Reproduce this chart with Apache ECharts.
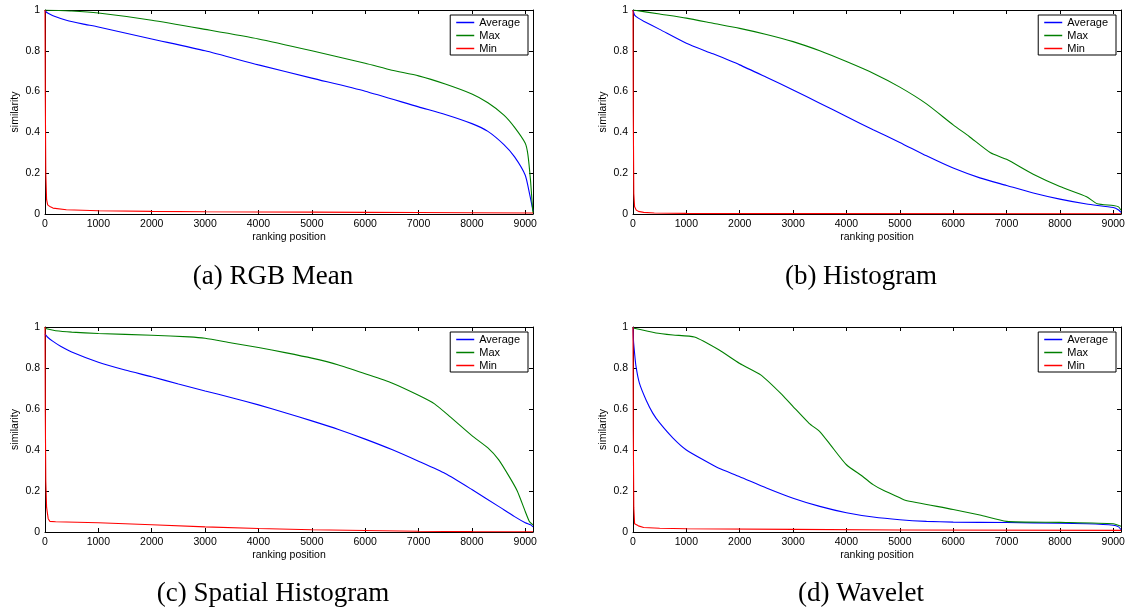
<!DOCTYPE html>
<html>
<head>
<meta charset="utf-8">
<script src="https://cdn.jsdelivr.net/npm/echarts@6/dist/echarts.min.js"></script>
<style>
  html, body { margin: 0; padding: 0; background: #fff; }
  #chart { width: 1130px; height: 608px; }
</style>
</head>
<body>
<div id="chart"></div>
<script>
const seriesNames = ['Average', 'Max', 'Min'];
const seriesColors = ['#0000ff', '#007f00', '#ff0000'];
const panelCaptions = ['(a) RGB Mean', '(b) Histogram', '(c) Spatial Histogram', '(d) Wavelet'];
const rankMax = 9145;
const simTicks = [0, 0.2, 0.4, 0.6, 0.8, 1];

// [ranking position, similarity]
const avgRgb = [[0, 0.995], [50, 0.985], [150, 0.972], [400, 0.95], [700, 0.932], [1000, 0.917], [2000, 0.858], [3000, 0.8], [4000, 0.731], [5000, 0.666], [6000, 0.602], [7000, 0.525], [7500, 0.488], [8000, 0.443], [8300, 0.405], [8600, 0.34], [8800, 0.28], [9000, 0.19], [9080, 0.1], [9130, 0.035], [9145, 0.015]];
const maxRgb = [[0, 1], [500, 0.995], [1000, 0.985], [2000, 0.95], [3000, 0.905], [4000, 0.858], [5000, 0.8], [6000, 0.739], [6500, 0.705], [7000, 0.677], [7500, 0.637], [8000, 0.588], [8300, 0.545], [8600, 0.485], [8800, 0.425], [9000, 0.347], [9050, 0.29], [9100, 0.16], [9130, 0.05], [9145, 0.005]];
const minRgb = [[0, 1], [5, 0.6], [15, 0.2], [30, 0.07], [50, 0.045], [100, 0.035], [150, 0.029], [400, 0.021], [1000, 0.016], [2000, 0.013], [3000, 0.011], [4000, 0.01], [5000, 0.009], [6000, 0.008], [7000, 0.007], [8000, 0.006], [9145, 0.005]];

const avgHist = [[0, 1], [30, 0.975], [100, 0.96], [200, 0.945], [500, 0.905], [1000, 0.837], [1500, 0.785], [2000, 0.731], [2500, 0.67], [3000, 0.608], [3500, 0.543], [4000, 0.478], [4500, 0.413], [5000, 0.351], [5500, 0.285], [6000, 0.225], [6500, 0.177], [7000, 0.14], [7500, 0.103], [8000, 0.073], [8500, 0.049], [9000, 0.032], [9100, 0.02], [9145, 0.008]];
const maxHist = [[0, 1], [500, 0.98], [1000, 0.96], [1500, 0.935], [2000, 0.91], [2500, 0.88], [3000, 0.845], [3500, 0.8], [4000, 0.747], [4500, 0.69], [5000, 0.622], [5500, 0.54], [6000, 0.437], [6300, 0.38], [6700, 0.3], [7000, 0.268], [7500, 0.195], [8000, 0.135], [8500, 0.085], [8700, 0.05], [9000, 0.042], [9100, 0.035], [9145, 0.018]];
const minHist = [[0, 1], [5, 0.5], [15, 0.1], [30, 0.035], [60, 0.02], [100, 0.013], [200, 0.008], [400, 0.005], [1000, 0.003], [3000, 0.002], [9145, 0.001]];

const avgSpatial = [[0, 0.965], [50, 0.95], [150, 0.93], [300, 0.905], [500, 0.878], [1000, 0.828], [1500, 0.79], [2000, 0.757], [2500, 0.722], [3000, 0.688], [3500, 0.655], [4000, 0.62], [4500, 0.582], [5000, 0.542], [5500, 0.5], [6000, 0.453], [6500, 0.402], [7000, 0.345], [7500, 0.285], [8000, 0.207], [8500, 0.125], [8800, 0.075], [9000, 0.045], [9100, 0.035], [9145, 0.025]];
const maxSpatial = [[0, 0.995], [50, 0.99], [200, 0.982], [500, 0.975], [1000, 0.968], [2000, 0.96], [2700, 0.952], [3000, 0.945], [3500, 0.922], [4000, 0.9], [4500, 0.875], [5000, 0.848], [5500, 0.815], [6000, 0.772], [6500, 0.727], [7000, 0.667], [7300, 0.625], [7600, 0.56], [8000, 0.47], [8300, 0.41], [8500, 0.353], [8700, 0.27], [8850, 0.2], [9000, 0.1], [9080, 0.05], [9145, 0.035]];
const minSpatial = [[0, 1], [5, 0.6], [15, 0.25], [30, 0.12], [60, 0.065], [90, 0.052], [200, 0.05], [1000, 0.045], [2000, 0.035], [3000, 0.025], [4000, 0.017], [5000, 0.011], [6000, 0.007], [7000, 0.004], [8000, 0.002], [9145, 0.001]];

const avgWavelet = [[0, 1], [10, 0.93], [25, 0.885], [55, 0.81], [120, 0.726], [245, 0.644], [370, 0.58], [500, 0.532], [750, 0.458], [1000, 0.4], [1400, 0.34], [1600, 0.312], [2000, 0.27], [2500, 0.215], [3000, 0.165], [3500, 0.125], [4000, 0.094], [4500, 0.073], [5000, 0.06], [5500, 0.052], [6000, 0.048], [7000, 0.046], [8000, 0.043], [8500, 0.04], [9000, 0.033], [9100, 0.025], [9145, 0.012]];
const maxWavelet = [[0, 0.995], [430, 0.971], [750, 0.961], [1150, 0.951], [1600, 0.89], [2000, 0.822], [2400, 0.765], [2800, 0.668], [3000, 0.612], [3300, 0.53], [3500, 0.49], [3700, 0.425], [4000, 0.328], [4300, 0.272], [4500, 0.231], [4700, 0.202], [5000, 0.167], [5100, 0.155], [6000, 0.11], [6500, 0.083], [7000, 0.052], [8000, 0.047], [9000, 0.04], [9145, 0.028]];
const minWavelet = [[0, 1], [5, 0.5], [15, 0.12], [30, 0.04], [100, 0.03], [200, 0.022], [500, 0.018], [1000, 0.016], [3000, 0.013], [5000, 0.01], [9145, 0.008]];

const panels = [
  [avgRgb, maxRgb, minRgb],
  [avgHist, maxHist, minHist],
  [avgSpatial, maxSpatial, minSpatial],
  [avgWavelet, maxWavelet, minWavelet]
];

// plot boxes, legend and caption placement
const boxes = [
  { left: 45, top: 10, width: 488, height: 204 },
  { left: 633, top: 10, width: 488, height: 204 },
  { left: 45, top: 327, width: 488, height: 205 },
  { left: 633, top: 327, width: 488, height: 205 }
];
const legendPos = [{ right: 602, top: 15 }, { right: 14, top: 15 }, { right: 602, top: 332 }, { right: 14, top: 332 }];
const captionPos = [[273, 277], [861, 277], [273, 594], [861, 594]];

const font = 'Liberation Sans';
const frameLine = { show: true, onZero: false, lineStyle: { color: '#000', width: 1 } };
const innerTick = { show: true, inside: true, length: 4, lineStyle: { color: '#000', width: 1 } };

const xAxes = [], yAxes = [], series = [], legends = [];
boxes.forEach((b, p) => {
  xAxes.push({
    type: 'value', gridIndex: p, position: 'bottom', min: 0, max: rankMax, interval: 1000,
    axisLine: frameLine, axisTick: innerTick, splitLine: { show: false },
    axisLabel: { color: '#000', fontSize: 10.5, fontFamily: font, margin: 5,
      formatter: v => (v % 1000 ? '' : String(v)) },
    name: 'ranking position', nameLocation: 'middle', nameGap: 18,
    nameTextStyle: { color: '#000', fontSize: 10.5, fontFamily: font }
  });
  xAxes.push({
    type: 'value', gridIndex: p, position: 'top', min: 0, max: rankMax, interval: 1000,
    axisLine: frameLine, axisTick: innerTick, splitLine: { show: false }, axisLabel: { show: false }
  });
  yAxes.push({
    type: 'value', gridIndex: p, position: 'left', min: simTicks[0], max: simTicks[simTicks.length - 1], interval: 0.2,
    axisLine: frameLine, axisTick: innerTick, splitLine: { show: false },
    axisLabel: { color: '#000', fontSize: 10.5, fontFamily: font, margin: 5 },
    name: 'similarity', nameLocation: 'middle', nameGap: 24,
    nameTextStyle: { color: '#000', fontSize: 10.5, fontFamily: font }
  });
  yAxes.push({
    type: 'value', gridIndex: p, position: 'right', min: 0, max: 1, interval: 0.2,
    axisLine: frameLine, axisTick: innerTick, splitLine: { show: false }, axisLabel: { show: false }
  });
  panels[p].forEach((data, j) => {
    series.push({
      name: seriesNames[j], type: 'line', xAxisIndex: 2 * p, yAxisIndex: 2 * p,
      data: data, symbol: 'none', showSymbol: false,
      smooth: j === 2 ? false : 0.2,
      lineStyle: { width: 1.1, color: seriesColors[j] }, itemStyle: { color: seriesColors[j] },
      emphasis: { disabled: true }
    });
  });
  legends.push(Object.assign({
    data: seriesNames, orient: 'vertical', selectedMode: false,
    icon: 'rect', itemWidth: 18, itemHeight: 1.5, itemGap: 2,
    padding: [2, 8, 1, 6], borderColor: '#000', borderWidth: 1, backgroundColor: '#fff',
    textStyle: { color: '#000', fontSize: 11, fontFamily: font, lineHeight: 11 }
  }, legendPos[p]));
});

const chart = echarts.init(document.getElementById('chart'), null, { renderer: 'canvas' });
chart.setOption({
  animation: false,
  backgroundColor: '#fff',
  grid: boxes,
  xAxis: xAxes,
  yAxis: yAxes,
  legend: legends,
  series: series,
  graphic: panelCaptions.map((t, i) => ({
    type: 'text', x: captionPos[i][0], y: captionPos[i][1],
    style: { text: t, font: '27px "Liberation Serif"', fill: '#000', align: 'center', verticalAlign: 'middle' }
  }))
});
</script>
</body>
</html>
